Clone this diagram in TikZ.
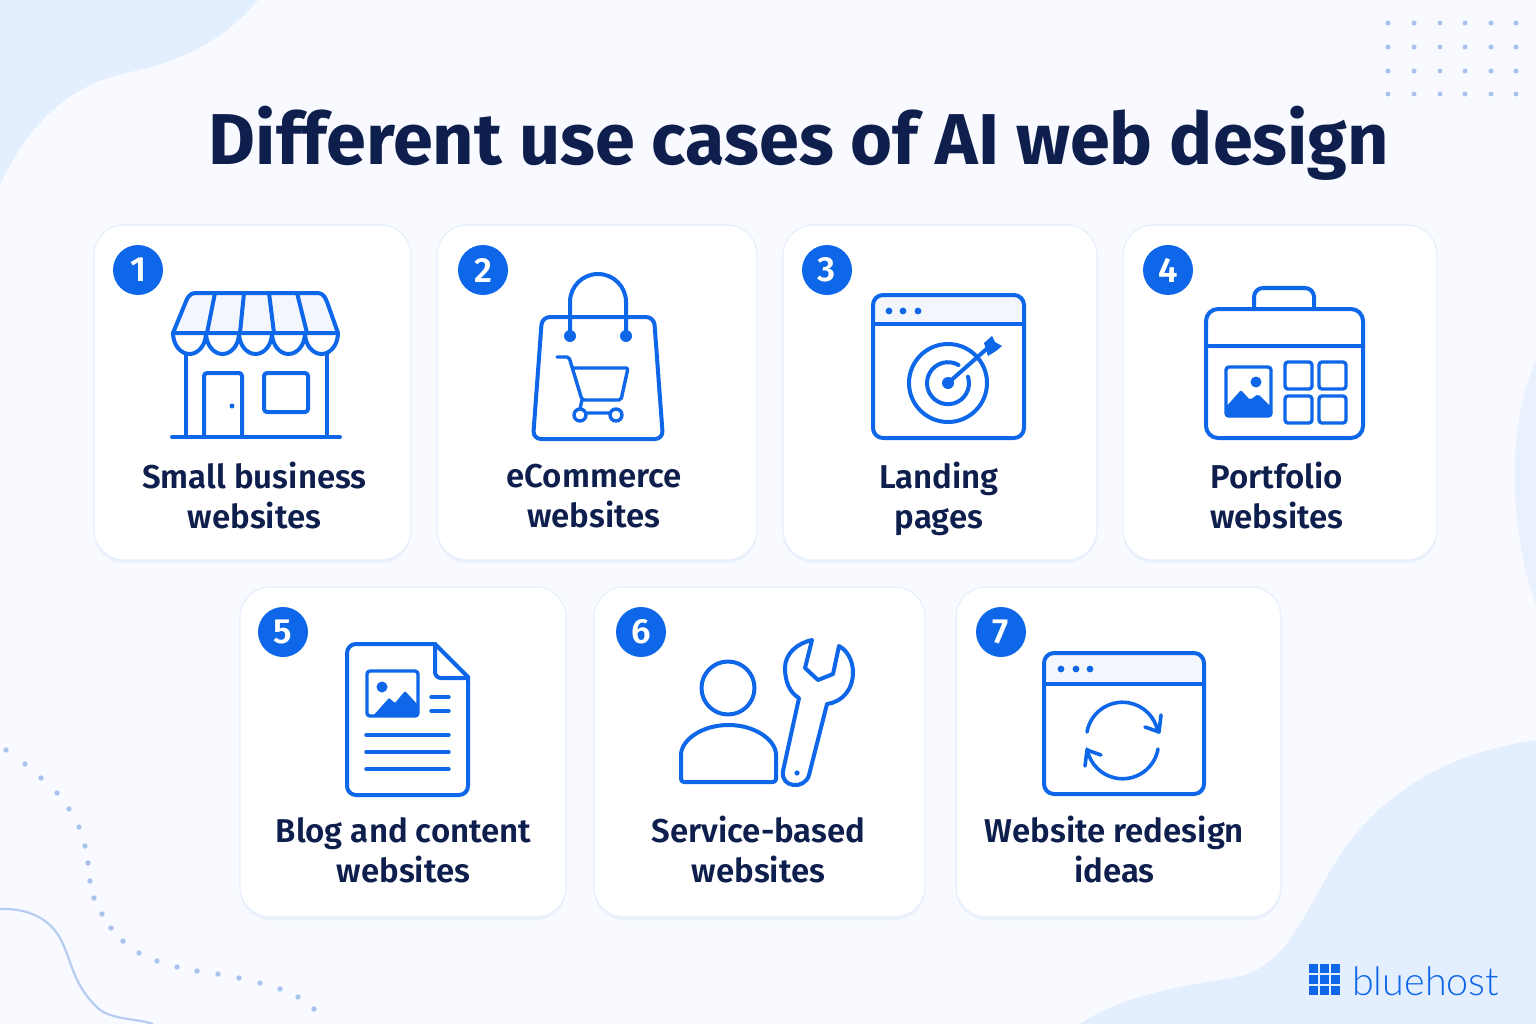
\documentclass[tikz,border=0pt]{standalone}
\usepackage{fontspec}
\setmainfont{Fira Sans}[BoldFont={Fira Sans SemiBold}]
\newfontfamily\titlefont{Fira Sans Bold}
\newfontfamily\logofont{Lato Light}
\usetikzlibrary{shadows}

\definecolor{pagebg}{HTML}{F8FAFF}
\definecolor{blobbg}{HTML}{E3EEFE}
\definecolor{brandblue}{HTML}{0E66E8}
\definecolor{inkblue}{HTML}{0E1F4D}
\definecolor{dotblue}{HTML}{A9C3EE}
\definecolor{edgeblue}{HTML}{E6EFFC}
\definecolor{tintblue}{HTML}{F3F7FD}

\tikzset{
	card/.style={draw=edgeblue, line width=1.2pt, fill=white, rounded corners=30pt,
		drop shadow={shadow xshift=0pt, shadow yshift=-3pt, fill=edgeblue, opacity=0.7}},
	badge/.style={circle, fill=brandblue, text=white, minimum size=50pt, inner sep=0pt,
		font=\bfseries\fontsize{35}{35}\selectfont},
	cardlabel/.style={text=inkblue, align=center, inner sep=0pt,
		font=\bfseries\fontsize{33}{40}\selectfont},
	icon/.style={draw=brandblue, line width=4pt, line cap=round, line join=round},
	thinicon/.style={icon, line width=3.4pt},
	solid icon/.style={fill=brandblue, draw=none},
}

\begin{document}
\begin{tikzpicture}[x=1pt, y=-1pt]
	\useasboundingbox (0,0) rectangle (1536,1024);
	\fill[pagebg] (0,0) rectangle (1536,1024);

	% background blobs
	\fill[blobbg] (0,0) -- (258,0) .. controls (225,40) and (180,62) .. (130,72)
		.. controls (65,85) and (25,130) .. (0,185) -- cycle;
	\fill[blobbg] (1080,1024) .. controls (1130,990) and (1200,985) .. (1245,975)
		.. controls (1300,955) and (1310,890) .. (1355,835)
		.. controls (1405,775) and (1470,750) .. (1536,740) -- (1536,1024) -- cycle;
	\fill[blobbg!70!pagebg] (1536,360) .. controls (1505,430) and (1510,530) .. (1536,605) -- cycle;

	% dots top right
	\foreach \dotx in {1388,1414,1440,1465,1491,1516}
		\foreach \doty in {23,47,71,94}
			\fill[dotblue] (\dotx,\doty) circle[radius=2.5pt];

	% dotted trail and thin line bottom left
	\foreach \dotx/\doty in {6/750,25/764,41/778,57/793,69/809,79/827,85/846,88/863,90/881,94/898,102/914,111/928,123/941,139/953,157/961,177/967,197/971,218/974,239/978,260/983,280/989,298/997,314/1009}
		\fill[dotblue] (\dotx,\doty) circle[radius=2.7pt];
	\draw[dotblue!85!white, line width=2.2pt] (0,909) .. controls (30,908) and (50,920) .. (60,938)
		.. controls (72,960) and (72,985) .. (100,1010)
		.. controls (115,1020) and (140,1019) .. (153,1024);

	\node[text=inkblue, inner sep=0pt, font=\titlefont\fontsize{72}{72}\selectfont] (title) at (799,143) {Different use cases of AI web design};

	% cards and badges
	\foreach \cardname/\cx/\cy/\cw/\ch in {one/252.5/392.5/317/335,two/597/392.5/320/335,three/940/392.5/314/335,four/1280/392.5/314/335,five/403/752/326/330,six/759.5/752/331/330,seven/1118.5/752/325/330}
		\node[card, minimum width=\cw pt, minimum height=\ch pt] (card\cardname) at (\cx,\cy) {};
	\foreach \cardname/\bx/\by/\num in {one/138/270/1,two/483/270/2,three/827/270/3,four/1168/270/4,five/283/632/5,six/641/632/6,seven/1001/632/7}
		\node[badge] (badge\cardname) at (\bx,\by) {\num};

	\node[cardlabel] (labelone) at (254.5,496) {Small business\\websites};
	\node[cardlabel] (labeltwo) at (594,496) {eCommerce\\websites};
	\node[cardlabel] (labelthree) at (939,499) {Landing\\pages};
	\node[cardlabel] (labelfour) at (1277,496) {Portfolio\\websites};
	\node[cardlabel] (labelfive) at (403.5,850) {Blog and content\\websites};
	\node[cardlabel] (labelsix) at (758.5,850) {Service-based\\websites};
	\node[cardlabel] (labelseven) at (1114.5,850) {Website redesign\\ideas};

	% 1 shop
	\fill[tintblue] (191,293) -- (322,293) -- (338,333) -- (173,333) -- cycle;
	\draw[icon] (173,333) -- (187,299) [rounded corners=4pt] -- (191,293) -- (322,293) -- (326,299) [sharp corners] -- (338,333) -- cycle;
	\foreach \ribtop/\ribbot in {215/207,244/240,269/274,297/307}
		\draw[icon] (\ribtop,293) -- (\ribbot,333);
	\foreach \i in {0,...,4}
		\draw[icon] (173+33*\i,333) arc[start angle=180, end angle=360, x radius=16.5pt, y radius=21pt];
	\draw[icon] (186,354) -- (186,437);
	\draw[icon] (327,354) -- (327,437);
	\draw[icon] (172,437) -- (340,437);
	\draw[icon, rounded corners=3pt] (204,437) -- (204,373) -- (242,373) -- (242,437);
	\draw[icon, rounded corners=3pt] (264,373) rectangle (308,412);
	\fill[brandblue] (232,406) circle[radius=2.5pt];

	% 2 bag
	\draw[icon, rounded corners=8pt] (542,317) -- (654,317) -- (663,439) -- (533,439) -- cycle;
	\draw[icon] (570,336) -- (570,302) arc[start angle=180, end angle=0, radius=28pt] -- (626,336);
	\fill[brandblue] (570,336) circle[radius=6pt] (626,336) circle[radius=6pt];
	\draw[thinicon, rounded corners=2pt] (557,357) -- (569,357) -- (582,400) -- (621,400) -- (628,368) -- (574,368);
	\draw[thinicon] (582,400) -- (580,409);
	\draw[thinicon] (580,415) circle[radius=6pt] (616,415) circle[radius=6pt] (586,413) -- (610,413);

	% 3 landing page
	\fill[tintblue, rounded corners=10pt] (873,295) -- (1024,295) -- (1024,324) -- (873,324) -- cycle;
	\draw[icon, rounded corners=10pt] (873,295) rectangle (1024,438);
	\draw[icon] (873,324) -- (1024,324);
	\foreach \dotx in {889,903,918}
		\fill[brandblue] (\dotx,311) circle[radius=3.4pt];
	\draw[icon] (948,383) circle[radius=39pt];
	\draw[icon] (958.5,365) arc[start angle=60, end angle=378, radius=21pt];
	\fill[brandblue] (948,383) circle[radius=6pt];
	\draw[icon] (948,383) -- (990,346);
	\fill[brandblue] (984,343) -- (992,336) -- (995,342) -- (1002,346) -- (996,351) -- (988,356) -- cycle;

	% 4 portfolio
	\draw[icon, rounded corners=12pt] (1206,309) rectangle (1363,438);
	\draw[icon] (1206,346) -- (1363,346);
	\draw[icon, rounded corners=9pt] (1254,308) -- (1254,288) -- (1314,288) -- (1314,308);
	\draw[thinicon, rounded corners=3pt] (1226,367) rectangle (1271,416);
	\fill[solid icon, rounded corners=2pt] (1225,408) -- (1241,390) -- (1250,400) -- (1258,394) -- (1272,408) -- (1272,417) -- (1225,417) -- cycle;
	\fill[brandblue] (1256,382) circle[radius=5.5pt];
	\foreach \sqx in {1285,1319}
		\foreach \sqy in {362,396}
			\draw[thinicon, rounded corners=3pt] (\sqx,\sqy) rectangle (\sqx+27,\sqy+27);

	% 5 document
	\draw[icon, rounded corners=9pt] (435,644) -- (347,644) -- (347,795) -- (468,795) -- (468,677);
	\draw[icon] (435,644) -- (468,677);
	\draw[icon, rounded corners=6pt] (435,644) -- (435,678) -- (468,678);
	\draw[thinicon, rounded corners=3pt] (367,671) rectangle (418,716);
	\fill[solid icon, rounded corners=1pt] (373,716) -- (389,698) -- (395,703) -- (405,691) -- (418,705) -- (418,717) -- cycle;
	\fill[brandblue] (382,687) circle[radius=5.5pt];
	\foreach \liney in {697,711}
		\draw[thinicon] (431,\liney) -- (449,\liney);
	\foreach \liney in {735,752,769}
		\draw[thinicon] (366,\liney) -- (449,\liney);

	% 6 person and wrench
	\draw[icon] (728,688) circle[radius=26.5pt];
	\draw[icon, rounded corners=3pt] (681,782) -- (681,758) arc[start angle=180, end angle=0, x radius=47.5pt, y radius=33pt] -- (776,782) -- cycle;
	\draw[icon] (812,640) -- (805,668) -- (818,680) -- (833,674) -- (839,646)
		.. controls (850,652) and (853,665) .. (853,672)
		.. controls (853,690) and (842,702) .. (827,704)
		-- (809,775) .. controls (805,790) and (780,788) .. (783,771)
		-- (799,698) .. controls (790,693) and (785,682) .. (785,668)
		.. controls (785,653) and (798,643) .. (812,640) -- cycle;
	\fill[brandblue] (797,773) circle[radius=2.6pt];

	% 7 redesign
	\fill[tintblue, rounded corners=10pt] (1044,653) -- (1204,653) -- (1204,684) -- (1044,684) -- cycle;
	\draw[icon, rounded corners=10pt] (1044,653) rectangle (1204,794);
	\draw[icon] (1044,684) -- (1204,684);
	\foreach \dotx in {1061,1076,1090}
		\fill[brandblue] (\dotx,669) circle[radius=3.4pt];
	\draw[thinicon, line width=3.6pt] (1087,732) arc[start angle=170, end angle=10, radius=36pt];
	\draw[thinicon, line width=3.6pt] (1161,715) -- (1159,732) -- (1145,727);
	\draw[thinicon, line width=3.6pt] (1158,749) arc[start angle=-10, end angle=-170, radius=36pt];
	\draw[thinicon, line width=3.6pt] (1085,766) -- (1087,750) -- (1101,755);

	% logo
	\foreach \i in {0,1,2}
		\foreach \j in {0,1,2}
			\fill[brandblue] (1308.5+11*\i,963.5+11*\j) rectangle ++(9.5,9.5);
	\node[anchor=base west, inner sep=0pt, text=brandblue, font=\logofont\fontsize{39.5}{39.5}\selectfont] (logo) at (1352,995) {bluehost};
\end{tikzpicture}
\end{document}
